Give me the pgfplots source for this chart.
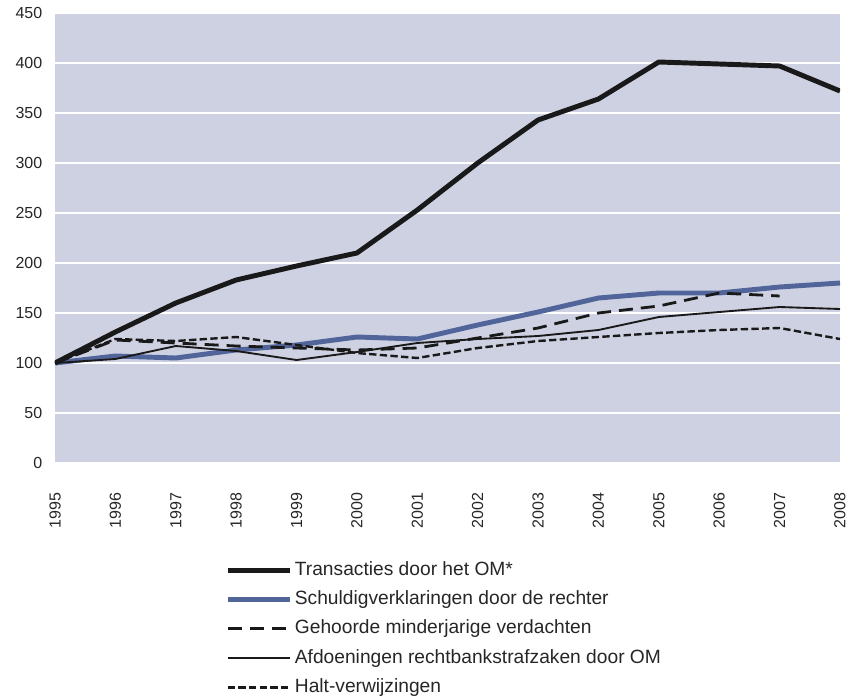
\documentclass[border=0pt]{standalone}
\usepackage{fontspec}
\setmainfont{Liberation Sans}
\usepackage{pgfplots}
\pgfplotsset{compat=1.18}
\definecolor{bgc}{HTML}{CDD1E2}
\definecolor{blu}{HTML}{52659B}
\begin{document}
\begin{tikzpicture}
\begin{axis}[
  name=ax,
  scale only axis,
  width=588.75pt, height=337.5pt,
  xmin=1995, xmax=2008, ymin=0, ymax=450,
  xtick={1995,...,2008}, ytick={0,50,...,450},
  axis background/.style={fill=bgc},
  axis line style={draw=none},
  major tick length=0pt,
  ymajorgrids, grid style={white, line width=1.5pt},
  /pgf/number format/assume math mode=true,
  /pgf/number format/1000 sep={},
  tick label style={font=\fontsize{12}{14}\selectfont, text=black!85},
  xticklabel style={rotate=90, anchor=east},
  xticklabel shift=19pt,
  yticklabel shift=6pt,
  legend style={at={(axis description cs:0.2166,-0.216)}, anchor=north west,
    draw=none, fill=none, inner sep=0pt, row sep=7.5pt, column sep=1.5pt,
    font=\fontsize{14.4}{17}\selectfont,
    nodes={inner sep=0pt, text height=11pt, text depth=3.5pt, text=black!85}},
  legend cell align=left,
  legend image code/.code={\draw[#1] (0pt,0pt) -- (47pt,0pt);},
  line join=round,
]
\addlegendimage{black!90, line width=3.7pt}
\addlegendentry{Transacties door het OM*}
\addlegendimage{blu, line width=3.7pt}
\addlegendentry{Schuldigverklaringen door de rechter}
\addlegendimage{black!90, line width=2.1pt, dash pattern=on 10.5pt off 6pt}
\addlegendentry{Gehoorde minderjarige verdachten}
\addlegendimage{black!90, line width=1.4pt}
\addlegendentry{Afdoeningen rechtbankstrafzaken door OM}
\addlegendimage{black!90, line width=1.8pt, dash pattern=on 5.5pt off 2.5pt}
\addlegendentry{Halt-verwijzingen}

\addplot[blu, line width=3.7pt, forget plot] coordinates {
(1995,100)(1996,107)(1997,105)(1998,113)(1999,118)(2000,126)(2001,124)
(2002,138)(2003,151)(2004,165)(2005,170)(2006,170)(2007,176)(2008,180)};
\addplot[black!90, line width=2.1pt, dash pattern=on 10.5pt off 6pt, forget plot] coordinates {
(1995,100)(1996,123)(1997,120)(1998,117)(1999,115)(2000,113)(2001,115)
(2002,125)(2003,135)(2004,150)(2005,157)(2006,170)(2007,167)};
\addplot[black!90, line width=1.4pt, forget plot] coordinates {
(1995,100)(1996,104)(1997,117)(1998,112)(1999,103)(2000,111)(2001,120)
(2002,124)(2003,127)(2004,133)(2005,146)(2006,151)(2007,156)(2008,154)};
\addplot[black!90, line width=1.8pt, dash pattern=on 5.5pt off 2.5pt, forget plot] coordinates {
(1995,100)(1996,124)(1997,122)(1998,126)(1999,118)(2000,110)(2001,105)
(2002,115)(2003,122)(2004,126)(2005,130)(2006,133)(2007,135)(2008,124)};
\addplot[black!90, line width=3.7pt, forget plot] coordinates {
(1995,100)(1996,131)(1997,160)(1998,183)(1999,197)(2000,210)(2001,253)
(2002,300)(2003,343)(2004,364)(2005,401)(2006,399)(2007,397)(2008,372)};
\end{axis}
\path ([xshift=-41.25pt,yshift=-174.75pt]ax.south west) rectangle ([xshift=14.25pt,yshift=9.75pt]ax.north east);
\end{tikzpicture}
\end{document}
